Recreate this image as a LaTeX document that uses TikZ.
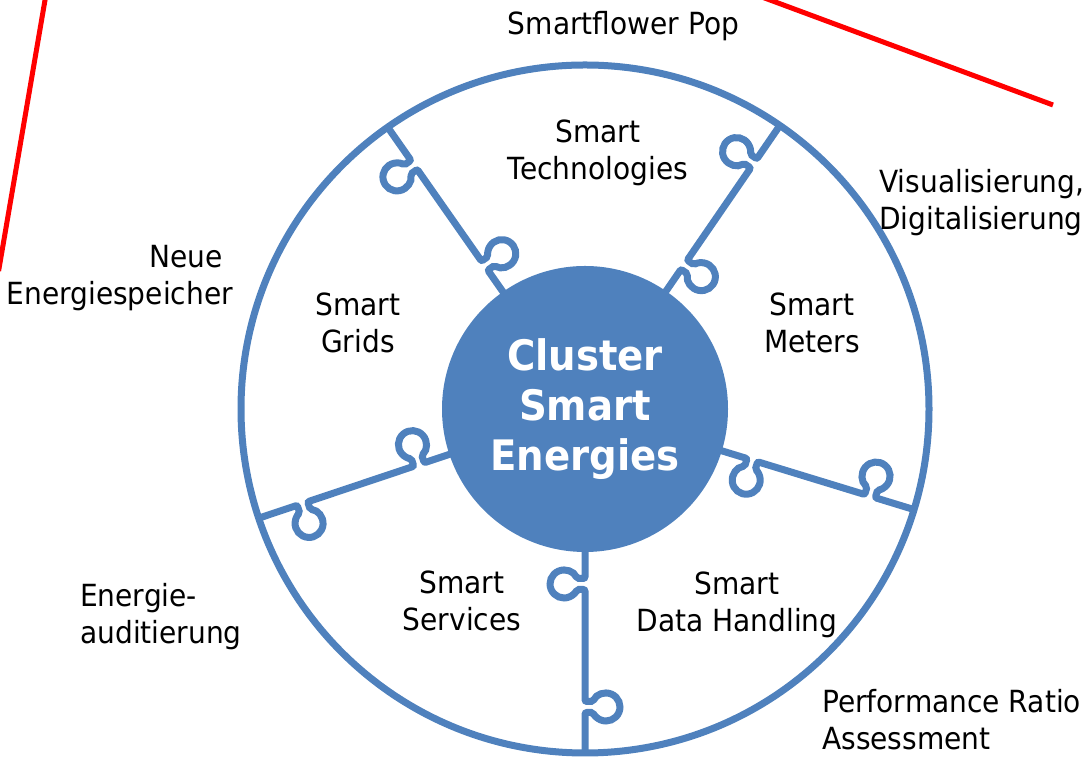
\documentclass[tikz,border=0pt]{standalone}
\usepackage{fontspec}
\setmainfont{DejaVu Sans}[FakeStretch=0.92]
\usetikzlibrary{calc}
\definecolor{puzzleblue}{HTML}{4F81BD}

\begin{document}
\begin{tikzpicture}[x=1pt, y=1pt,
  spoke/.style={draw=puzzleblue, line width=7pt, rounded corners=2pt},
  ring/.style={draw=puzzleblue, line width=7pt},
  redline/.style={draw=red, line width=5pt},
  txt/.style={inner sep=0pt, font=\fontsize{30.5}{37}\selectfont, align=center}]
  \useasboundingbox (0,0) rectangle (1087,759);

  % Define the centre and the radius of the wheel
  \def\rout{344}
  \coordinate (ctr) at (585,350);

  % Red lines at the top
  \draw[redline] (46.4,767) -- (-1.4,488);
  \draw[redline] (748.4,767) -- (1053,654);

  % Outer ring
  \draw[ring] (ctr) circle[radius=\rout];

  % Puzzle spokes, one knob on each side
  \foreach \ang in {125,55.5,198.5,343,270} {
    \begin{scope}[shift={(ctr)}, rotate=\ang]
      \draw[spoke] (130,0) -- (169.5,0) -- (169.5,-8.1)
        arc[start angle=-246.9, end angle=66.9, radius=14] -- (180.5,0) -- (292.5,0) -- (292.5,8.1)
        arc[start angle=246.9, end angle=-66.9, radius=14] -- (303.5,0) -- (\rout+1,0);
    \end{scope}
  }

  % Centre
  \node[circle, fill=puzzleblue, minimum size=286pt, inner sep=0pt, text=white,
    font=\fontsize{42}{50}\selectfont\bfseries, align=center] (cluster) at (ctr) {Cluster\\Smart\\Energies};

  % Pieces
  \node[txt] (tech) at (598,606.5) {Smart\\Technologies};
  \node[txt] (grids) at (358,436) {Smart\\Grids};
  \node[txt] (meters) at (812,436) {Smart\\Meters};
  \node[txt] (services) at (462,157.6) {Smart\\Services};
  \node[txt] (data) at (737,154) {Smart\\Data Handling};

  % Outside
  \node[txt, anchor=base] (pop) at (623.5,724) {Smartflower Pop};
  \node[txt, anchor=west, align=left] (visual) at (879,556.5) {Visualisierung,\\Digitalisierung};
  \node[txt, anchor=east, align=right] (speicher) at (233,481) {Neue\hspace*{10pt}\\Energiespeicher};
  \node[txt, anchor=west, align=left] (audit) at (80,142.5) {Energie-\\auditierung};
  \node[txt, anchor=west, align=left] (perf) at (822,39) {Performance Ratio\\Assessment};
\end{tikzpicture}
\end{document}
